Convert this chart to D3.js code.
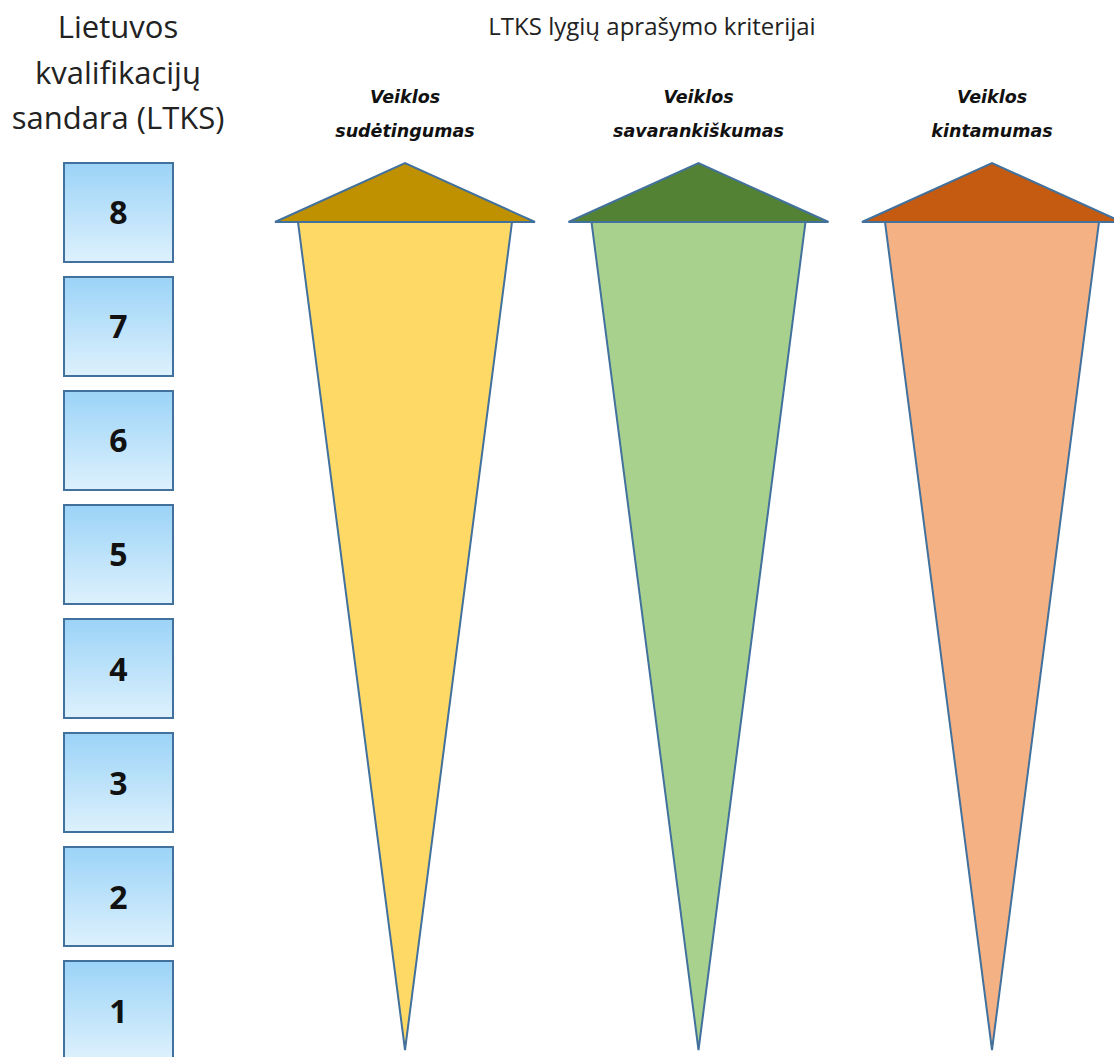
<!DOCTYPE html>
<html><head><meta charset="utf-8">
<script src="https://cdn.jsdelivr.net/npm/d3@7"></script>
<style>body{margin:0;background:#fff}</style>
</head><body>
<svg id="c" width="1114" height="1057"></svg>
<script>
const levels = [8, 7, 6, 5, 4, 3, 2, 1];
const leftTitle = ["Lietuvos", "kvalifikacijų", "sandara (LTKS)"];
const mainTitle = "LTKS lygių aprašymo kriterijai";
const criteriaLine1 = ["Veiklos", "Veiklos", "Veiklos"];
const criteriaLine2 = ["sudėtingumas", "savarankiškumas", "kintamumas"];
const headColors = ["#BF9000", "#548235", "#C55A11"];
const bodyColors = ["#FFD966", "#A9D18E", "#F4B183"];

const svg = d3.select("#c");
const defs = svg.append("defs");
const grad = defs.append("linearGradient").attr("id","bx").attr("x1",0).attr("y1",0).attr("x2",0).attr("y2",1);
grad.append("stop").attr("offset","0%").attr("stop-color","#9BD3F7");
grad.append("stop").attr("offset","100%").attr("stop-color","#DDF1FD");

const y = d3.scaleBand().domain(levels).range([163, 1060]).paddingInner(0.1316).paddingOuter(0);
const boxX = 64, boxW = 109;

const g = svg.append("g");
g.selectAll("rect.lv").data(levels).join("rect")
  .attr("class","lv").attr("x", boxX).attr("y", d => y(d))
  .attr("width", boxW).attr("height", y.bandwidth())
  .attr("fill","url(#bx)").attr("stroke","#41719C").attr("stroke-width",2);
g.selectAll("text.lv").data(levels).join("text")
  .attr("class","lv").attr("x", boxX + boxW/2).attr("y", d => y(d) + y.bandwidth()/2 + 12)
  .attr("text-anchor","middle").attr("font-family","Open Sans, sans-serif")
  .attr("font-weight",700).attr("font-size",32).attr("fill","#111").text(d => d);

svg.selectAll("text.lt").data(leftTitle).join("text")
  .attr("class","lt").attr("x",118).attr("y",(d,i)=>38 + i*45.5)
  .attr("text-anchor","middle").attr("font-family","Open Sans, sans-serif")
  .attr("font-size",31).attr("fill","#222").text(d=>d);

svg.append("text").attr("x",652).attr("y",35).attr("text-anchor","middle")
  .attr("font-family","Open Sans, sans-serif").attr("font-size",24).attr("fill","#222").text(mainTitle);

const x = d3.scalePoint().domain(d3.range(criteriaLine2.length)).range([405, 992]);
const headTop = 163, headBase = 222, tipY = 1050, headHalf = 130, bodyHalf = 107;

const cg = svg.selectAll("g.cr").data(criteriaLine2.map((d,i)=>i)).join("g").attr("class","cr");
cg.append("path")
  .attr("d", i => `M${x(i)-bodyHalf},${headBase}L${x(i)+bodyHalf},${headBase}L${x(i)},${tipY}Z`)
  .attr("fill", i => bodyColors[i]).attr("stroke","#41719C").attr("stroke-width",2).attr("stroke-linejoin","miter");
cg.append("path")
  .attr("d", i => `M${x(i)-headHalf},${headBase}L${x(i)},${headTop}L${x(i)+headHalf},${headBase}Z`)
  .attr("fill", i => headColors[i]).attr("stroke","#41719C").attr("stroke-width",2);
cg.append("text").attr("x", i => x(i)).attr("y", 103).attr("text-anchor","middle")
  .attr("font-family","DejaVu Sans, sans-serif").attr("font-weight",700).attr("font-style","italic")
  .attr("font-size",17.5).attr("fill","#111").text(i => criteriaLine1[i]);
cg.append("text").attr("x", i => x(i)).attr("y", 137).attr("text-anchor","middle")
  .attr("font-family","DejaVu Sans, sans-serif").attr("font-weight",700).attr("font-style","italic")
  .attr("font-size",17.5).attr("fill","#111").text(i => criteriaLine2[i]);
</script>
</body></html>
